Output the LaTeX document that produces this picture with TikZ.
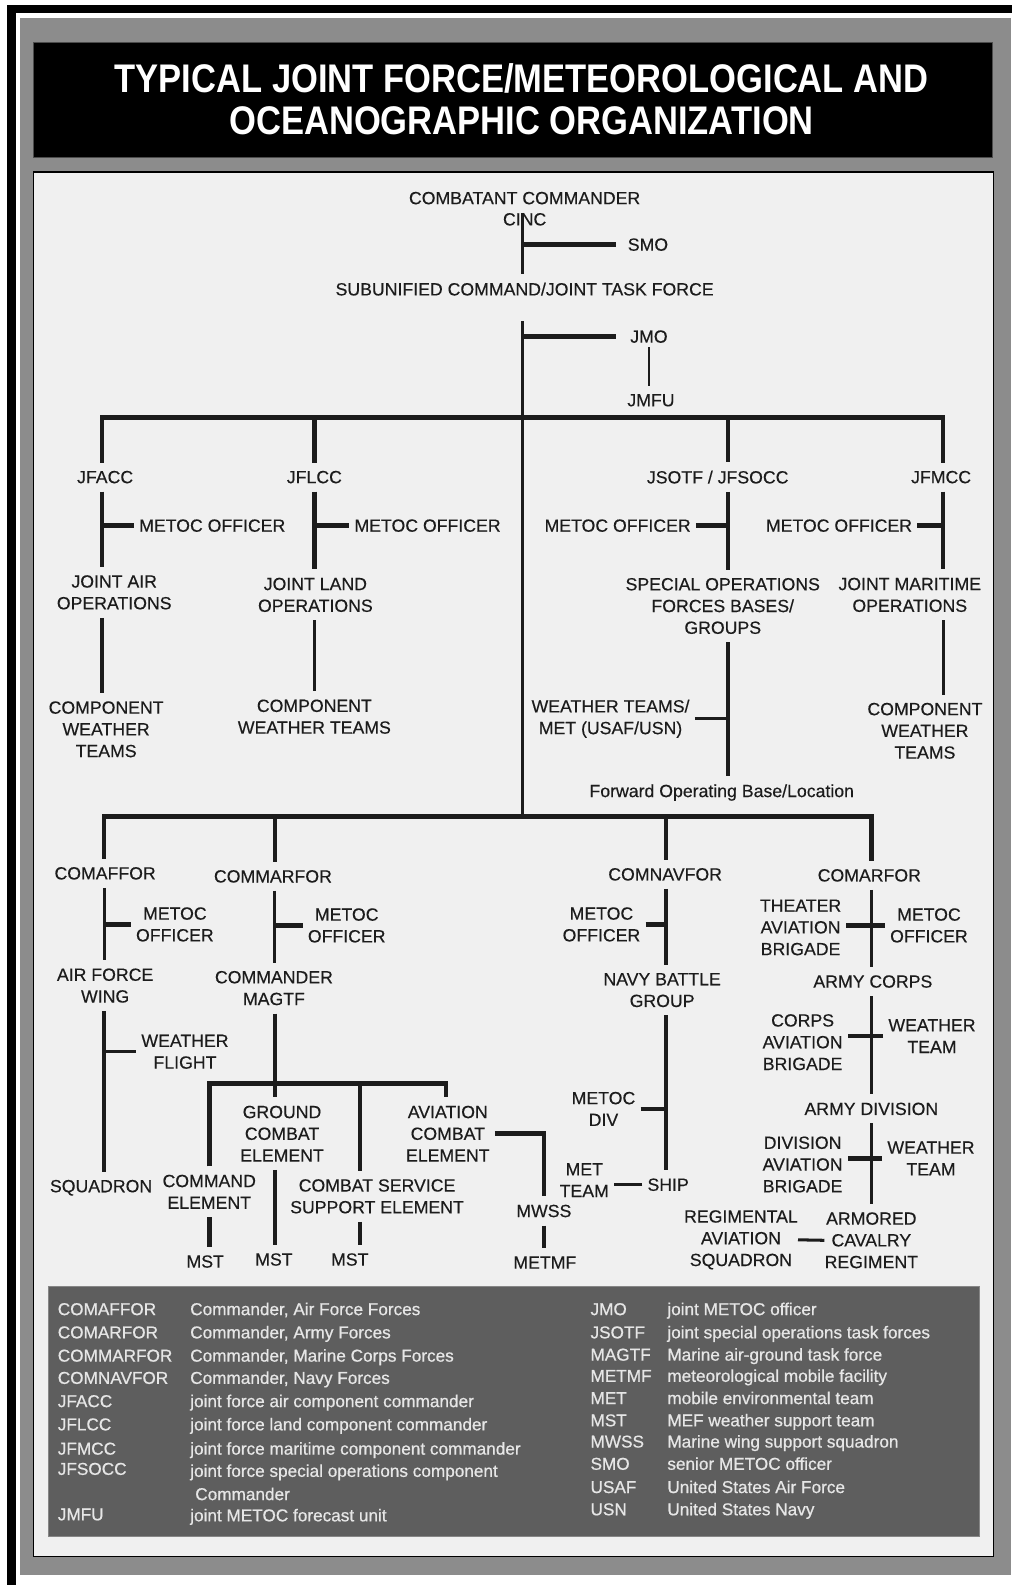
\documentclass[tikz,border=0pt]{standalone}
\usepackage{fontspec}
\setmainfont{Liberation Sans}
\newfontfamily\titlefont{Liberation Sans}[FakeStretch=0.865]
\newfontfamily\chartfont{Liberation Sans}[FakeBold=0.35]
\newfontfamily\keyfont{Liberation Sans}[FakeBold=0.7]
\definecolor{frameGray}{HTML}{8C8C8C}
\definecolor{panelBg}{HTML}{F0F0F0}
\definecolor{legendBg}{HTML}{5E5E5E}
\definecolor{legendInk}{HTML}{E6E6E6}
\definecolor{ink}{HTML}{1C1C1C}

\begin{document}
\begin{tikzpicture}[x=1pt,y=-1pt]

      \tikzset{unit/.style={font=\chartfont\fontsize{17.5}{21.5}\selectfont, text=ink, align=center, inner xsep=5pt, inner ysep=8pt},
               abbr/.style={font=\keyfont\fontsize{17}{20}\selectfont, text=legendInk, anchor=base west, inner sep=0pt},
               heavy/.style={draw=ink, line width=4.5pt},
               light/.style={draw=ink, line width=3pt},
               hair/.style={draw=ink, line width=2pt}}
% Frame
      \useasboundingbox (0,0) rectangle (1001,1568);
      \fill[black] (7,5) rectangle (1001,12.5);
      \fill[black] (7,5) rectangle (16,1568);
      \fill[frameGray] (20,18) rectangle (1000,1558);
      \filldraw[fill=black, draw=black!70, line width=1pt] (33,42.5) rectangle (982,156);
      \filldraw[fill=panelBg, draw=black, line width=1.5pt] (33,170) rectangle (983,1540);
      \filldraw[fill=legendBg, draw=legendBg!75!white, line width=1pt] (47.5,1273) rectangle (969,1520);

      \node[font=\titlefont\bfseries\fontsize{39.5}{42}\selectfont, text=white, align=center] (title) at (516,98) {TYPICAL JOINT FORCE/METEOROLOGICAL AND\\OCEANOGRAPHIC ORGANIZATION};

% Vertices
      	\node[unit] (cc) at (519,196) {COMBATANT COMMANDER};
      	\node[unit, inner sep=0pt] (cinc) at (519,217) {CINC};
      	\node[unit, inner xsep=11pt] (smo) at (641,242) {SMO};
      	\node[unit] (sub) at (519,286) {SUBUNIFIED COMMAND/JOINT TASK FORCE};
      	\node[unit, inner xsep=14pt, inner ysep=4pt] (jmo) at (642,333) {JMO};
      	\node[unit] (jmfu) at (644,396) {JMFU};

      	\coordinate (trunk) at (517,318);
      	\coordinate (hubA) at (517,413);
      	\coordinate (hubB) at (517,808);
      	\coordinate (colA) at (101,413);
      	\coordinate (colB) at (311,413);
      	\coordinate (colD) at (720,413);
      	\coordinate (colE) at (933,413);
      	\coordinate (colF) at (103,808);
      	\coordinate (colG) at (272,808);
      	\coordinate (colH) at (659,808);
      	\coordinate (colI) at (862,808);
      	\coordinate (colJ) at (207,1072);
      	\coordinate (colK) at (272,1072);
      	\coordinate (colL) at (356,1072);
      	\coordinate (colM) at (441,1072);

      	\node[unit] (jfacc) at (104,472) {JFACC};
      	\node[unit] (metocA) at (210,520) {METOC OFFICER};
      	\node[unit] (jao) at (113,586) {JOINT AIR\\OPERATIONS};
      	\node[unit] (cwtA) at (105,721.5) {COMPONENT\\WEATHER\\TEAMS};

      	\node[unit] (jflcc) at (311,472) {JFLCC};
      	\node[unit] (metocB) at (423,520) {METOC OFFICER};
      	\node[unit] (jlo) at (312,588.5) {JOINT LAND\\OPERATIONS};
      	\node[unit] (cwtB) at (311,709) {COMPONENT\\WEATHER TEAMS};

      	\node[unit] (jsotf) at (710,472) {JSOTF / JFSOCC};
      	\node[unit] (metocC) at (611,520) {METOC OFFICER};
      	\node[unit] (sof) at (715,599.5) {SPECIAL OPERATIONS\\FORCES BASES/\\GROUPS};
      	\node[unit] (wtm) at (604,711) {WEATHER TEAMS/\\MET (USAF/USN)};
      	\node[unit] (fob) at (714,784) {Forward Operating Base/Location};

      	\node[unit] (jfmcc) at (931,472) {JFMCC};
      	\node[unit] (metocD) at (830,520) {METOC OFFICER};
      	\node[unit] (jmops) at (900,588.5) {JOINT MARITIME\\OPERATIONS};
      	\node[unit] (cwtE) at (915,723) {COMPONENT\\WEATHER\\TEAMS};

      	\node[unit] (comaffor) at (104,864) {COMAFFOR};
      	\node[unit] (metocF) at (173,914.5) {METOC\\OFFICER};
      	\node[unit] (afw) at (104,975) {AIR FORCE\\WING};
      	\node[unit] (wf) at (183,1040.5) {WEATHER\\FLIGHT};
      	\node[unit] (sqd) at (100,1175) {SQUADRON};

      	\node[unit] (commarfor) at (270,867) {COMMARFOR};
      	\node[unit] (metocG) at (343,915.5) {METOC\\OFFICER};
      	\node[unit] (cmagtf) at (271,977.5) {COMMANDER\\MAGTF};
      	\node[unit] (gce) at (279,1121.5) {GROUND\\COMBAT\\ELEMENT};
      	\node[unit] (ace) at (443,1121.5) {AVIATION\\COMBAT\\ELEMENT};
      	\node[unit] (ce) at (207,1179) {COMMAND\\ELEMENT};
      	\node[unit] (csse) at (373,1183.5) {COMBAT SERVICE\\SUPPORT ELEMENT};
      	\node[unit] (mst1) at (203,1248) {MST};
      	\node[unit] (mst2) at (271,1246) {MST};
      	\node[unit] (mst3) at (346,1246) {MST};
      	\node[unit] (mwss) at (538,1198) {MWSS};
      	\node[unit] (metmf) at (539,1249) {METMF};

      	\node[unit] (comnavfor) at (658,865) {COMNAVFOR};
      	\node[unit] (metocH) at (595,914.5) {METOC\\OFFICER};
      	\node[unit] (nbg) at (655,979.5) {NAVY BATTLE\\GROUP};
      	\node[unit] (mdiv) at (597,1097) {METOC\\DIV};
      	\node[unit] (ship) at (661,1172) {SHIP};
      	\node[unit] (metteam) at (578,1167.5) {MET\\TEAM};

      	\node[unit] (comarfor) at (860,866) {COMARFOR};
      	\node[unit] (tab) at (792,917.5) {THEATER\\AVIATION\\BRIGADE};
      	\node[unit] (metocI) at (919,915.5) {METOC\\OFFICER};
      	\node[unit] (acorps) at (863.5,971) {ARMY CORPS};
      	\node[unit] (cab) at (794,1031) {CORPS\\AVIATION\\BRIGADE};
      	\node[unit] (wtI) at (922,1025) {WEATHER\\TEAM};
      	\node[unit] (adiv) at (862,1097) {ARMY DIVISION};
      	\node[unit] (dab) at (794,1152) {DIVISION\\AVIATION\\BRIGADE};
      	\node[unit] (wtJ) at (921,1146) {WEATHER\\TEAM};
      	\node[unit, inner xsep=0pt] (ras) at (733,1226.5) {REGIMENTAL\\AVIATION\\SQUADRON};
      	\node[unit, inner xsep=0pt] (acr) at (862,1227) {ARMORED\\CAVALRY\\REGIMENT};

%Edges
		\path[light] (cinc.north -| hubA) edge (sub.north -| hubA);
		\path[heavy] (smo.west -| hubA) edge (smo.west);
		\path[light] (trunk) edge (hubB);
		\path[heavy] (jmo.west -| hubA) edge (jmo.west);
		\path[hair] (jmo.south) edge (jmo.south |- jmfu.north);

		\draw[heavy] (colA |- jfacc.north) -- (colA) -- (colE) -- (colE |- jfmcc.north);
		\path[heavy] (colB) edge (colB |- jflcc.north) (colD) edge (colD |- jsotf.north);

		\path[heavy] (jfacc.south -| colA) edge (jao.north -| colA);
		\path[heavy] (metocA.west -| colA) edge (metocA.west);
		\path[heavy] (jao.south -| colA) edge (cwtA.north -| colA);

		\path[heavy] (jflcc.south -| colB) edge (jlo.north -| colB);
		\path[heavy] (metocB.west -| colB) edge (metocB.west);
		\path[light] (jlo.south -| colB) edge (cwtB.north -| colB);

		\path[heavy] (jsotf.south -| colD) edge (sof.north -| colD);
		\path[heavy] (metocC.east) edge (metocC.east -| colD);
		\path[heavy] (sof.south -| colD) edge (fob.north -| colD);
		\path[light] (wtm.east) edge (wtm.east -| colD);

		\path[heavy] (jfmcc.south -| colE) edge (jmops.north -| colE);
		\path[heavy] (metocD.east) edge (metocD.east -| colE);
		\path[light] (jmops.south -| colE) edge (cwtE.north -| colE);

		\draw[heavy] (colF |- comaffor.north) -- (colF) -- (colI) -- (colI |- comarfor.north);
		\path[heavy] (colG) edge (colG |- commarfor.north) (colH) edge (colH |- comnavfor.north);

		\path[light] (comaffor.south -| colF) edge (afw.north -| colF);
		\path[heavy] (metocF.west -| colF) edge (metocF.west);
		\path[heavy] (afw.south -| colF) edge (sqd.north -| colF);
		\path[light] (wf.west -| colF) edge (wf.west);

		\path[light] (commarfor.south -| colG) edge (cmagtf.north -| colG);
		\path[heavy] (metocG.west -| colG) edge (metocG.west);
		\path[heavy] (cmagtf.south -| colG) edge (colK);
		\draw[heavy] (colJ |- ce.north) -- (colJ) -- (colM) -- (colM |- ace.north);
		\path[heavy] (colK) edge (colK |- gce.north) (colL) edge (colL |- csse.north);
		\path[heavy] (ce.south -| colJ) edge (mst1.north -| colJ);
		\path[heavy] (gce.south -| colK) edge (mst2.north -| colK);
		\path[heavy] (csse.south -| colL) edge (mst3.north -| colL);
		\draw[heavy] (ace.east) -| (mwss.north);
		\path[heavy] (mwss.south) edge (mwss.south |- metmf.north);

		\path[heavy] (comnavfor.south -| colH) edge (nbg.north -| colH);
		\path[heavy] (metocH.east) edge (metocH.east -| colH);
		\path[heavy] (nbg.south -| colH) edge (ship.north -| colH);
		\path[heavy] (mdiv.east) edge (mdiv.east -| colH);
		\path[light] (ship.west) edge (ship.west -| metteam.east);

		\path[light] (comarfor.south -| colI) edge (acorps.north -| colI);
		\path[heavy] (metocI.west) edge (metocI.west -| tab.east);
		\path[light] (acorps.south -| colI) edge (adiv.north -| colI);
		\path[heavy] (wtI.west) edge (wtI.west -| cab.east);
		\path[light] (adiv.south -| colI) edge (acr.north -| colI);
		\path[heavy] (wtJ.west) edge (wtJ.west -| dab.east);
		\path[light] (ras.east) edge (acr.west);

% Legend
      	\node[abbr] (kComaffor) at (57,1301) {COMAFFOR};
      	\node[abbr] (gComaffor) at (188,1301) {Commander, Air Force Forces};
      	\node[abbr] (kComarfor) at (57,1324) {COMARFOR};
      	\node[abbr] (gComarfor) at (188,1324) {Commander, Army Forces};
      	\node[abbr] (kCommarfor) at (57,1347) {COMMARFOR};
      	\node[abbr] (gCommarfor) at (188,1347) {Commander, Marine Corps Forces};
      	\node[abbr] (kComnavfor) at (57,1369) {COMNAVFOR};
      	\node[abbr] (gComnavfor) at (188,1369) {Commander, Navy Forces};
      	\node[abbr] (kJfacc) at (57,1392) {JFACC};
      	\node[abbr] (gJfacc) at (188,1392) {joint force air component commander};
      	\node[abbr] (kJflcc) at (57,1415) {JFLCC};
      	\node[abbr] (gJflcc) at (188,1415) {joint force land component commander};
      	\node[abbr] (kJfmcc) at (57,1439) {JFMCC};
      	\node[abbr] (gJfmcc) at (188,1439) {joint force maritime component commander};
      	\node[abbr] (kJfsocc) at (57,1459) {JFSOCC};
      	\node[abbr] (gJfsocc) at (188,1461) {joint force special operations component};
      	\node[abbr] (gJfsoccB) at (193,1484) {Commander};
      	\node[abbr] (kJmfu) at (57,1504) {JMFU};
      	\node[abbr] (gJmfu) at (188,1505) {joint METOC forecast unit};

      	\node[abbr] (kJmo) at (584,1301) {JMO};
      	\node[abbr] (gJmo) at (660,1301) {joint METOC officer};
      	\node[abbr] (kJsotf) at (584,1324) {JSOTF};
      	\node[abbr] (gJsotf) at (660,1324) {joint special operations task forces};
      	\node[abbr] (kMagtf) at (584,1346) {MAGTF};
      	\node[abbr] (gMagtf) at (660,1346) {Marine air-ground task force};
      	\node[abbr] (kMetmf) at (584,1367) {METMF};
      	\node[abbr] (gMetmf) at (660,1367) {meteorological mobile facility};
      	\node[abbr] (kMet) at (584,1389) {MET};
      	\node[abbr] (gMet) at (660,1389) {mobile environmental team};
      	\node[abbr] (kMst) at (584,1411) {MST};
      	\node[abbr] (gMst) at (660,1411) {MEF weather support team};
      	\node[abbr] (kMwss) at (584,1432) {MWSS};
      	\node[abbr] (gMwss) at (660,1432) {Marine wing support squadron};
      	\node[abbr] (kSmo) at (584,1454) {SMO};
      	\node[abbr] (gSmo) at (660,1454) {senior METOC officer};
      	\node[abbr] (kUsaf) at (584,1477) {USAF};
      	\node[abbr] (gUsaf) at (660,1477) {United States Air Force};
      	\node[abbr] (kUsn) at (584,1499) {USN};
      	\node[abbr] (gUsn) at (660,1499) {United States Navy};

	\end{tikzpicture}
\end{document}
